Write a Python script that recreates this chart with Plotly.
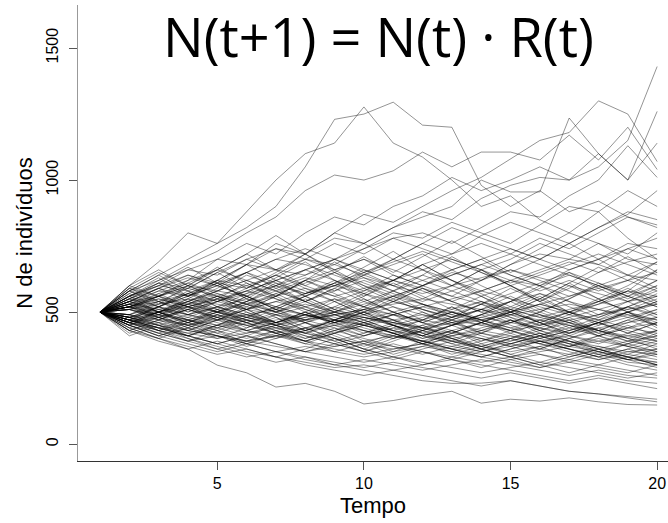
import plotly.graph_objects as go

# time steps
tempo = list(range(1, 21))

# simulated trajectories N(t) (one list per line)
paths = [
    [500, 560, 610, 590, 650, 700, 660, 720, 780, 760, 820, 880, 850, 930, 980, 1010, 1000, 1050, 1150, 1430],
    [500, 540, 590, 640, 610, 680, 740, 720, 800, 870, 840, 900, 960, 1010, 1080, 1150, 1180, 1300, 1250, 1070],
    [500, 520, 480, 530, 580, 560, 620, 660, 700, 760, 820, 860, 900, 1000, 955, 955, 1235, 1100, 1000, 1260],
    [500, 580, 640, 700, 760, 820, 900, 1050, 1230, 1250, 1295, 1208, 1200, 980, 900, 960, 880, 920, 860, 830],
    [500, 600, 690, 800, 760, 880, 1000, 1100, 1140, 1277, 1140, 1087, 1000, 900, 940, 850, 800, 880, 780, 700],
    [500, 560, 620, 680, 730, 800, 860, 960, 1019, 1000, 1035, 1106, 1050, 1106, 1106, 1076, 1170, 1076, 1200, 1040],
    [500, 550, 600, 660, 700, 760, 720, 800, 860, 830, 900, 940, 1010, 960, 1000, 1050, 1000, 1100, 1000, 1140],
    [500, 470, 520, 560, 610, 590, 640, 700, 760, 720, 780, 800, 760, 820, 880, 860, 940, 1000, 1130, 1010],
    [500, 530, 580, 560, 620, 680, 660, 700, 680, 740, 800, 780, 840, 800, 760, 830, 900, 880, 960, 900],
    [500, 590, 560, 620, 700, 680, 760, 720, 800, 760, 700, 760, 720, 790, 840, 800, 760, 820, 870, 960],
    [500, 520, 560, 600, 580, 640, 600, 660, 620, 580, 640, 600, 560, 620, 680, 720, 700, 760, 720, 800],
    [500, 560, 520, 580, 620, 600, 560, 620, 580, 640, 680, 720, 660, 700, 640, 600, 660, 700, 760, 740],
    [500, 540, 590, 560, 600, 650, 700, 680, 640, 600, 560, 600, 650, 620, 680, 740, 800, 760, 700, 680],
    [500, 480, 520, 560, 600, 560, 520, 560, 600, 640, 700, 660, 620, 580, 620, 660, 700, 680, 740, 780],
    [500, 580, 620, 660, 640, 700, 740, 700, 660, 700, 640, 600, 640, 680, 720, 680, 640, 600, 640, 620],
    [500, 450, 490, 530, 570, 540, 590, 630, 600, 660, 620, 680, 720, 760, 720, 780, 740, 800, 860, 820],
    [500, 560, 600, 580, 540, 580, 620, 660, 700, 660, 620, 580, 540, 580, 620, 600, 640, 600, 560, 600],
    [500, 520, 490, 540, 580, 620, 580, 540, 580, 620, 580, 540, 580, 620, 660, 620, 580, 540, 580, 660],
    [500, 460, 500, 470, 440, 480, 520, 490, 460, 500, 540, 510, 480, 450, 490, 530, 500, 470, 440, 480],
    [500, 540, 510, 480, 520, 490, 460, 430, 470, 500, 470, 440, 410, 440, 470, 440, 410, 450, 480, 450],
    [500, 470, 440, 470, 500, 530, 500, 470, 440, 410, 440, 470, 500, 470, 440, 410, 380, 410, 440, 420],
    [500, 520, 550, 520, 490, 460, 490, 520, 550, 520, 490, 520, 550, 580, 550, 520, 490, 460, 500, 530],
    [500, 480, 450, 420, 450, 480, 450, 420, 390, 420, 450, 420, 390, 360, 390, 420, 390, 360, 390, 370],
    [500, 530, 560, 590, 560, 530, 500, 530, 500, 470, 500, 530, 500, 470, 440, 470, 500, 530, 560, 520],
    [500, 460, 430, 460, 490, 460, 430, 400, 430, 460, 490, 460, 430, 400, 370, 400, 430, 460, 430, 400],
    [500, 510, 480, 450, 480, 510, 540, 510, 480, 450, 420, 450, 480, 510, 540, 570, 540, 510, 480, 510],
    [500, 490, 520, 490, 460, 430, 460, 490, 460, 430, 400, 430, 400, 370, 400, 430, 460, 430, 400, 430],
    [500, 540, 500, 460, 500, 540, 580, 540, 500, 540, 580, 620, 580, 540, 500, 460, 500, 540, 580, 560],
    [500, 450, 410, 440, 410, 380, 410, 440, 470, 440, 410, 380, 350, 380, 410, 380, 350, 320, 350, 340],
    [500, 480, 510, 540, 510, 480, 450, 420, 450, 480, 450, 420, 450, 480, 510, 480, 450, 420, 390, 410],
    [500, 520, 490, 520, 550, 520, 490, 460, 490, 460, 430, 400, 430, 460, 430, 400, 370, 400, 370, 350],
    [500, 470, 500, 530, 500, 470, 440, 470, 500, 530, 560, 530, 500, 470, 500, 530, 500, 470, 500, 470],
    [500, 530, 500, 470, 440, 470, 440, 410, 380, 410, 440, 410, 380, 350, 380, 410, 440, 410, 440, 460],
    [500, 460, 490, 460, 430, 400, 430, 460, 430, 400, 370, 340, 370, 400, 370, 340, 310, 340, 310, 300],
    [500, 510, 540, 570, 540, 510, 540, 570, 600, 570, 540, 510, 480, 510, 480, 450, 480, 510, 540, 580],
    [500, 490, 460, 490, 520, 490, 460, 490, 520, 490, 460, 430, 460, 490, 520, 490, 460, 430, 400, 380],
    [500, 550, 520, 490, 520, 550, 520, 490, 460, 490, 520, 490, 460, 430, 460, 490, 460, 490, 520, 490],
    [500, 450, 480, 510, 480, 450, 420, 390, 420, 450, 420, 390, 360, 330, 360, 390, 360, 330, 360, 390],
    [500, 480, 450, 480, 450, 420, 450, 480, 510, 480, 450, 480, 510, 540, 510, 480, 510, 540, 510, 550],
    [500, 520, 550, 520, 550, 580, 550, 520, 490, 460, 490, 520, 490, 460, 430, 400, 430, 460, 490, 450],
    [500, 450, 410, 380, 350, 380, 350, 320, 300, 320, 300, 280, 300, 320, 300, 280, 260, 280, 260, 250],
    [500, 460, 420, 390, 360, 330, 350, 330, 310, 290, 310, 290, 270, 250, 270, 250, 230, 250, 230, 210],
    [500, 430, 400, 370, 340, 360, 330, 300, 280, 260, 280, 260, 240, 220, 240, 220, 200, 190, 180, 170],
    [500, 440, 400, 360, 299, 270, 216, 230, 200, 152, 165, 185, 200, 155, 170, 163, 175, 160, 150, 148],
    [500, 470, 430, 400, 370, 340, 310, 330, 300, 280, 260, 240, 230, 231, 240, 220, 200, 190, 175, 160],
    [500, 460, 430, 410, 380, 350, 330, 310, 290, 300, 280, 300, 320, 300, 280, 260, 240, 260, 240, 230],
    [500, 480, 440, 410, 440, 410, 380, 350, 330, 310, 330, 310, 290, 270, 290, 310, 290, 270, 250, 270],
    [500, 450, 420, 390, 410, 380, 350, 370, 350, 330, 350, 370, 350, 330, 310, 290, 310, 290, 270, 300],
    [500, 470, 440, 410, 380, 410, 380, 350, 380, 350, 320, 350, 320, 290, 320, 290, 320, 350, 320, 310],
    [500, 460, 480, 450, 420, 390, 410, 380, 360, 340, 360, 380, 360, 340, 320, 340, 320, 300, 280, 260],
    [500, 540, 580, 620, 660, 620, 580, 620, 660, 700, 660, 620, 660, 700, 740, 700, 660, 700, 740, 700],
    [500, 560, 600, 640, 600, 560, 600, 640, 680, 640, 600, 640, 600, 560, 600, 640, 680, 720, 680, 640],
    [500, 520, 560, 520, 560, 600, 640, 600, 560, 520, 560, 600, 640, 680, 640, 600, 560, 600, 560, 520],
    [500, 580, 540, 500, 540, 580, 620, 580, 540, 580, 620, 660, 700, 660, 620, 580, 620, 580, 620, 580],
    [500, 530, 570, 610, 570, 530, 570, 610, 650, 610, 570, 530, 490, 530, 570, 610, 650, 610, 570, 620],
    [500, 490, 530, 570, 610, 650, 610, 570, 610, 650, 690, 730, 690, 650, 610, 650, 690, 650, 690, 720],
    [500, 470, 500, 530, 560, 530, 560, 590, 560, 590, 620, 590, 560, 530, 500, 530, 560, 590, 620, 650],
    [500, 510, 480, 510, 540, 570, 600, 570, 600, 630, 600, 570, 600, 630, 660, 630, 600, 570, 540, 560],
    [500, 550, 590, 630, 600, 650, 700, 740, 700, 650, 700, 760, 820, 780, 740, 700, 760, 820, 880, 850],
    [500, 520, 500, 540, 580, 620, 660, 640, 700, 740, 780, 740, 700, 660, 700, 760, 720, 680, 640, 690],
    [500, 480, 460, 430, 410, 390, 410, 390, 370, 390, 410, 390, 370, 350, 370, 390, 410, 390, 370, 340],
    [500, 510, 490, 470, 450, 430, 410, 430, 450, 430, 410, 390, 410, 430, 410, 390, 370, 390, 410, 430],
    [500, 460, 440, 420, 400, 420, 440, 420, 400, 380, 360, 380, 400, 420, 400, 380, 360, 340, 320, 340],
    [500, 530, 510, 490, 470, 450, 470, 490, 470, 450, 430, 410, 390, 370, 350, 370, 390, 370, 350, 360],
    [500, 490, 470, 450, 470, 490, 510, 490, 470, 450, 470, 490, 470, 450, 430, 450, 470, 490, 510, 530],
    [500, 520, 540, 510, 480, 450, 420, 440, 460, 480, 460, 440, 420, 400, 380, 360, 340, 320, 340, 320],
    [500, 470, 450, 430, 410, 390, 370, 350, 370, 390, 370, 350, 330, 310, 330, 350, 370, 350, 330, 310],
    [500, 540, 560, 530, 500, 470, 450, 470, 490, 510, 530, 550, 530, 510, 490, 470, 450, 430, 410, 390],
    [500, 480, 500, 520, 500, 480, 460, 480, 500, 480, 460, 440, 460, 480, 460, 440, 420, 440, 460, 480],
    [500, 510, 530, 550, 530, 510, 490, 470, 490, 510, 490, 470, 450, 470, 490, 510, 530, 510, 490, 470],
    [500, 430, 470, 520, 480, 430, 460, 500, 450, 410, 450, 400, 430, 390, 420, 460, 410, 380, 420, 390],
    [500, 580, 530, 600, 560, 510, 560, 620, 570, 520, 580, 530, 480, 530, 590, 540, 600, 550, 500, 540],
    [500, 420, 460, 410, 450, 500, 450, 400, 440, 390, 350, 390, 430, 380, 340, 370, 330, 360, 320, 290],
    [500, 590, 650, 600, 670, 610, 560, 620, 690, 630, 580, 640, 710, 650, 600, 550, 610, 670, 620, 690],
    [500, 450, 500, 550, 500, 560, 510, 470, 520, 570, 520, 470, 520, 460, 510, 560, 500, 450, 500, 440],
    [500, 530, 480, 440, 480, 530, 480, 430, 470, 520, 470, 420, 380, 420, 470, 420, 380, 340, 380, 420],
    [500, 560, 500, 450, 490, 540, 600, 540, 490, 450, 490, 440, 480, 530, 480, 430, 470, 420, 460, 500],
    [500, 440, 480, 430, 470, 520, 570, 520, 470, 510, 560, 510, 470, 420, 460, 500, 460, 410, 370, 400],
    [500, 570, 630, 560, 620, 680, 620, 560, 610, 670, 730, 660, 600, 660, 600, 540, 590, 650, 710, 650],
    [500, 480, 430, 390, 430, 380, 420, 460, 410, 370, 410, 450, 400, 360, 400, 440, 480, 430, 390, 430],
    [500, 520, 570, 520, 470, 510, 460, 420, 460, 500, 450, 410, 450, 490, 540, 490, 440, 480, 520, 570],
    [500, 460, 420, 460, 510, 460, 420, 380, 420, 380, 340, 370, 410, 370, 340, 310, 340, 370, 340, 380],
    [500, 600, 560, 500, 550, 610, 550, 500, 460, 500, 550, 500, 450, 490, 540, 600, 540, 490, 540, 490],
    [500, 410, 450, 400, 360, 390, 430, 390, 350, 380, 420, 380, 340, 370, 400, 360, 400, 440, 400, 360],
    [500, 550, 610, 670, 610, 550, 610, 560, 510, 560, 620, 680, 620, 560, 500, 550, 610, 550, 600, 660],
    [500, 470, 520, 570, 620, 560, 510, 560, 610, 550, 500, 460, 500, 540, 490, 450, 490, 530, 580, 530],
    [500, 530, 490, 440, 400, 440, 490, 440, 400, 360, 400, 440, 400, 360, 330, 360, 400, 360, 330, 300],
    [500, 490, 540, 490, 540, 590, 640, 590, 540, 490, 540, 590, 540, 500, 460, 500, 550, 600, 550, 600],
    [500, 440, 400, 440, 490, 440, 480, 430, 390, 350, 390, 430, 390, 430, 470, 430, 390, 350, 320, 350],
    [500, 510, 560, 610, 660, 720, 660, 600, 650, 710, 650, 710, 770, 710, 650, 700, 760, 700, 640, 590],
    [500, 560, 610, 560, 510, 470, 510, 560, 510, 470, 430, 470, 520, 470, 430, 470, 430, 470, 520, 560],
    [500, 450, 410, 450, 410, 370, 400, 440, 400, 360, 330, 360, 390, 360, 330, 300, 330, 360, 330, 300],
    [500, 520, 470, 510, 560, 510, 460, 500, 550, 500, 450, 410, 450, 490, 450, 410, 370, 410, 450, 410],
    [500, 470, 430, 470, 510, 560, 510, 460, 420, 460, 420, 380, 420, 460, 500, 460, 420, 460, 420, 460],
    [500, 580, 640, 580, 520, 570, 630, 690, 620, 560, 610, 560, 510, 560, 510, 460, 500, 550, 500, 450],
    [500, 430, 390, 360, 390, 360, 330, 360, 400, 360, 330, 300, 330, 360, 330, 300, 270, 300, 330, 300],
    [500, 540, 590, 540, 590, 650, 590, 540, 590, 650, 600, 550, 600, 660, 600, 540, 490, 540, 590, 540],
    [500, 490, 450, 410, 450, 490, 450, 490, 540, 490, 450, 410, 450, 410, 380, 410, 450, 410, 380, 350],
    [500, 600, 660, 600, 660, 720, 790, 720, 660, 600, 550, 600, 660, 600, 550, 500, 550, 610, 560, 620],
    [500, 460, 500, 460, 420, 460, 500, 550, 500, 460, 420, 380, 420, 460, 420, 380, 420, 460, 500, 460],
    [500, 520, 560, 600, 550, 500, 460, 500, 460, 420, 460, 500, 460, 420, 390, 420, 390, 360, 330, 360],
    [500, 480, 520, 570, 520, 480, 520, 570, 620, 570, 620, 680, 620, 570, 520, 570, 520, 480, 520, 480],
    [500, 570, 520, 470, 430, 470, 430, 390, 430, 470, 430, 390, 360, 390, 430, 390, 360, 330, 360, 330],
    [500, 430, 470, 510, 470, 430, 400, 430, 470, 510, 470, 430, 470, 510, 560, 510, 470, 430, 470, 510],
    [500, 550, 500, 550, 610, 550, 500, 460, 500, 550, 500, 460, 500, 460, 500, 550, 500, 460, 420, 460],
    [500, 460, 500, 540, 500, 460, 420, 390, 420, 450, 420, 390, 360, 330, 360, 390, 360, 330, 300, 280],
    [500, 510, 470, 430, 470, 510, 560, 510, 470, 430, 400, 430, 470, 510, 470, 430, 400, 430, 470, 430],
    [500, 590, 540, 590, 650, 590, 650, 720, 650, 590, 540, 590, 540, 500, 540, 590, 650, 590, 540, 590],
    [500, 470, 440, 410, 380, 410, 450, 410, 380, 350, 380, 350, 320, 350, 380, 410, 380, 350, 380, 410],
    [500, 540, 500, 460, 500, 540, 500, 540, 590, 540, 500, 460, 420, 460, 500, 460, 420, 460, 500, 540],
]

x_ticks = [5, 10, 15, 20]
y_ticks = [0, 500, 1000, 1500]

fig = go.Figure()
for p in paths:
    fig.add_trace(go.Scatter(x=tempo, y=p, mode='lines',
                             line=dict(color='rgba(0,0,0,0.42)', width=1),
                             showlegend=False, hoverinfo='skip'))

fig.add_annotation(text='N(t+1) = N(t) · R(t)', xref='paper', yref='paper',
                   x=0.51, y=0.932, yanchor='middle', showarrow=False,
                   font=dict(family='Open Sans', size=54, color='black'))

fig.update_xaxes(range=[0.25, 20.37], tickvals=x_ticks, ticks='outside', ticklen=8,
                 tickcolor='#555', showline=True, linecolor='#333', linewidth=1,
                 showgrid=False, zeroline=False, automargin=False,
                 tickfont=dict(family='Liberation Sans', size=16, color='black'),
                 title=dict(text='Tempo', font=dict(family='Liberation Sans', size=22, color='black'), standoff=6))
fig.update_yaxes(range=[-64, 1663], tickvals=y_ticks, tickangle=-90, ticks='outside', ticklen=8,
                 tickcolor='#555', showline=True, linecolor='#999', linewidth=1,
                 showgrid=False, zeroline=False, automargin=False, ticklabelstandoff=5,
                 tickfont=dict(family='Liberation Sans', size=16, color='black'),
                 title=dict(text='N de indivíduos', font=dict(family='Liberation Sans', size=22, color='black'), standoff=4))

fig.update_layout(width=668, height=523, plot_bgcolor='white', paper_bgcolor='white',
                  margin=dict(l=78, r=0, t=5, b=62))

# page body margin would shift the figure by 8px
fig.write_html("out.html", config={'displayModeBar': False},
               post_script="document.body.style.margin='0';")
